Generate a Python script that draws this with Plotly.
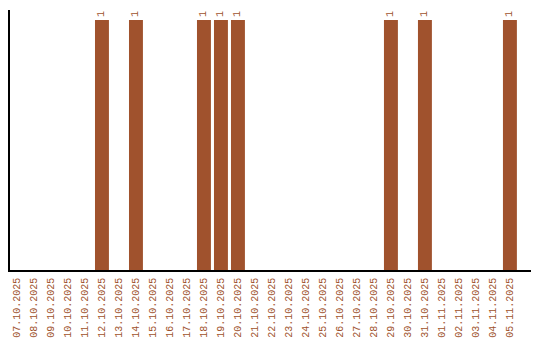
import plotly.graph_objects as go

dates = ["07.10.2025", "08.10.2025", "09.10.2025", "10.10.2025", "11.10.2025",
         "12.10.2025", "13.10.2025", "14.10.2025", "15.10.2025", "16.10.2025",
         "17.10.2025", "18.10.2025", "19.10.2025", "20.10.2025", "21.10.2025",
         "22.10.2025", "23.10.2025", "24.10.2025", "25.10.2025", "26.10.2025",
         "27.10.2025", "28.10.2025", "29.10.2025", "30.10.2025", "31.10.2025",
         "01.11.2025", "02.11.2025", "03.11.2025", "04.11.2025", "05.11.2025"]
counts = [0, 0, 0, 0, 0, 1, 0, 1, 0, 0, 0, 1, 1, 1, 0,
          0, 0, 0, 0, 0, 0, 0, 1, 0, 1, 0, 0, 0, 0, 1]

color = "#a0522d"
font_family = "Liberation Mono"
texts = [str(v) if v else "" for v in counts]

fig = go.Figure(go.Bar(
    x=dates, y=counts, marker_color=color, marker_line_width=0, width=0.82,
    text=texts, textposition="outside", textangle=-90,
    textfont=dict(color=color, size=10, family=font_family),
    cliponaxis=False,
))
fig.update_layout(
    width=540, height=340,
    margin=dict(l=10, r=9, t=10, b=70),
    plot_bgcolor="white", paper_bgcolor="white",
    showlegend=False,
    uniformtext=dict(minsize=1),
)
fig.update_xaxes(
    type="category", range=[-0.41, 30.24], automargin=False,
    showline=True, linecolor="black", linewidth=1.5,
    showgrid=False, ticks="", tickangle=-90, ticklabelstandoff=2,
    tickfont=dict(color=color, size=10, family=font_family),
)
fig.update_yaxes(
    range=[0, 1.04], automargin=False, showline=True, linecolor="black", linewidth=1.5,
    showgrid=False, showticklabels=False, ticks="", zeroline=False,
)
fig.write_html("out.html")
